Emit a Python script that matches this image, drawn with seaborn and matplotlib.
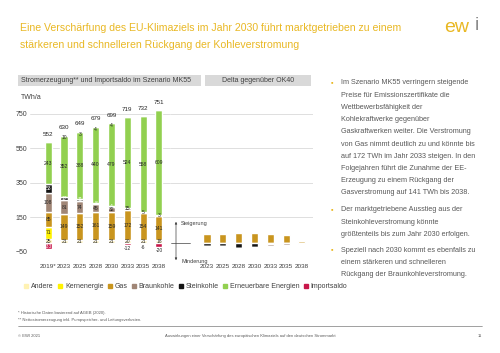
import numpy as np
import seaborn as sns
import matplotlib.pyplot as plt
from matplotlib.patches import Patch, Rectangle
from matplotlib.lines import Line2D

# data
years = ["2019*", "2023", "2025", "2028", "2030", "2033", "2035", "2038"]
andere = np.array([25, 21, 21, 21, 21, 20, 21, 18])
kern = np.array([71, 0, 0, 0, 0, 0, 0, 0])
gas = np.array([85, 149, 152, 161, 159, 172, 154, 141])
braun = np.array([108, 81, 74, 45, 32, 15, 5, 3])
stein = np.array([53, 17, 11, 8, 4, 0, 0, 0])
ee = np.array([243, 352, 388, 440, 479, 524, 558, 609])
importsaldo = np.array([-33, 10, 3, 4, 4, -12, -6, -20])
totals = [552, 630, 649, 679, 699, 719, 732, 751]

delta_years = ["2023", "2025", "2028", "2030", "2033", "2035", "2038"]
delta_gas = np.array([52, 55, 58, 62, 56, 48, 14])
delta_stein = np.array([-14, -14, -24, -20, -5, 0, 0])
delta_braun = np.array([-2, -3, -4, -5, -9, -8, -5])
delta_import = np.array([0, 0, 0, 0, -2, -4, 0])

colors = {
    "Andere": "#FFF2B3",
    "Kernenergie": "#FFF200",
    "Gas": "#C9951E",
    "Braunkohle": "#A08676",
    "Steinkohle": "#141414",
    "Erneuerbare Energien": "#92D050",
    "Importsaldo": "#C8174A",
}

gold = "#E9B824"
txt = "#595959"

W, H = 500, 353
def fx(x):
    return x / W
def fy(y):
    return 1 - y / H

sns.set_theme(style="white")
plt.rcParams['font.family'] = ['Liberation Sans', 'DejaVu Sans']

fig = plt.figure(figsize=(5, 3.53), dpi=100)

# title + logo
fig.text(fx(20), fy(28), "Eine Verschärfung des EU-Klimaziels im Jahr 2030 führt marktgetrieben zu einem",
         color=gold, fontsize=7.6, va="center")
fig.text(fx(20), fy(45), "stärkeren und schnelleren Rückgang der Kohleverstromung",
         color=gold, fontsize=7.6, va="center")
fig.text(fx(444), fy(27), "ew", color=gold, fontsize=14, va="center")
fig.text(fx(475), fy(26), "i", color="#8C8C8C", fontsize=14, va="center")

# panel headers
fig.add_artist(Rectangle((fx(18), fy(86)), fx(183), 11 / H, transform=fig.transFigure,
                         color="#D9D9D9", lw=0))
fig.add_artist(Rectangle((fx(205), fy(86)), fx(106), 11 / H, transform=fig.transFigure,
                         color="#D9D9D9", lw=0))
fig.text(fx(21), fy(80.5), "Stromerzeugung** und Importsaldo im Szenario MK55", fontsize=5,
         color="#404040", va="center")
fig.text(fx(258), fy(80.5), "Delta gegenüber OK40", fontsize=5, color="#404040",
         va="center", ha="center")
fig.text(fx(21), fy(97), "TWh/a", fontsize=5, color="#404040", va="center")

ylim = (-50, 830)
yticks = [-50, 150, 350, 550, 750]

ax1 = fig.add_axes([fx(30), fy(252), fx(140), 152 / H])
ax2 = fig.add_axes([fx(170), fy(252), fx(143), 152 / H])

# left: stacked generation
layers = [("Andere", andere), ("Kernenergie", kern), ("Gas", gas), ("Braunkohle", braun),
          ("Steinkohle", stein), ("Erneuerbare Energien", ee)]
bottom = np.zeros(len(years))
for name, vals in layers:
    sns.barplot(x=years, y=vals, bottom=bottom.copy(), color=colors[name], width=0.45,
                saturation=1, errorbar=None, ax=ax1)
    lab_col = "white" if name == "Steinkohle" else "#262626"
    ax1.bar_label(ax1.containers[-1], labels=[str(v) if v else "" for v in vals],
                  label_type="center", fontsize=3.6, color=lab_col)
    bottom += vals

imp_pos = np.clip(importsaldo, 0, None)
imp_neg = np.clip(importsaldo, None, 0)
sns.barplot(x=years, y=imp_pos, bottom=bottom.copy(), color=colors["Importsaldo"], width=0.45,
            saturation=1, errorbar=None, ax=ax1)
ax1.bar_label(ax1.containers[-1], labels=[str(v) if v else "" for v in imp_pos],
              label_type="edge", fontsize=3.6, color="#262626", padding=-4)
sns.barplot(x=years, y=imp_neg, color=colors["Importsaldo"], width=0.45,
            saturation=1, errorbar=None, ax=ax1)
ax1.bar_label(ax1.containers[-1], labels=[str(v) if i == 0 else "" for i, v in enumerate(imp_neg)],
              label_type="center", fontsize=3.6, color="white")
ax1.bar_label(ax1.containers[-1], labels=[str(v) if (i > 0 and v) else "" for i, v in enumerate(imp_neg)],
              label_type="edge", fontsize=3.6, color="#262626", padding=0.5)

top = bottom + imp_pos
for i, t in enumerate(totals):
    ax1.text(i, top[i] + 28, str(t), ha="center", va="bottom", fontsize=4.5, color="#262626")

# right: delta vs OK40
sns.barplot(x=delta_years, y=delta_gas, color=colors["Gas"], width=0.45, saturation=1,
            errorbar=None, ax=ax2)
sns.barplot(x=delta_years, y=delta_stein, color=colors["Steinkohle"], width=0.45, saturation=1,
            errorbar=None, ax=ax2)
sns.barplot(x=delta_years, y=delta_braun, bottom=delta_stein, color=colors["Braunkohle"],
            width=0.45, saturation=1, errorbar=None, ax=ax2)
sns.barplot(x=delta_years, y=delta_import, bottom=delta_stein + delta_braun,
            color=colors["Importsaldo"], width=0.45, saturation=1, errorbar=None, ax=ax2)

for ax in (ax1, ax2):
    ax.set_ylim(*ylim)
    ax.set_yticks(yticks)
    ax.yaxis.grid(True, color="#D9D9D9", lw=0.6)
    ax.set_axisbelow(True)
    ax.tick_params(axis="both", length=0, labelsize=5, colors="#404040")
    ax.tick_params(axis="x", pad=9, labelsize=4.6)
    ax.set_xlabel("")
    ax.set_ylabel("")
    sns.despine(ax=ax, left=True, bottom=True)
    ax.patch.set_alpha(0)

ax1.set_xlim(-1.15, 7.7)
ax1.tick_params(axis="y", pad=2)
ax2.set_xlim(-2.34, 6.7)
ax2.set_yticklabels([])

# Steigerung / Minderung arrows
fig.add_artist(Line2D([fx(171), fx(190)], [fy(243), fy(243)], transform=fig.transFigure,
                      color="#404040", lw=0.5))
ax2.annotate("", xy=(fx(176), fy(219)), xytext=(fx(176), fy(263)), xycoords="figure fraction",
             textcoords="figure fraction",
             arrowprops=dict(arrowstyle="<|-|>", lw=0.5, color="#404040", mutation_scale=3))
fig.text(fx(181), fy(224), "Steigerung", fontsize=4, color="#404040", va="center")
fig.text(fx(181), fy(261), "Minderung", fontsize=4, color="#404040", va="center")

# legend
handles = [Patch(color=c, label=n) for n, c in colors.items()]
fig.legend(handles=handles, loc="center left", bbox_to_anchor=(fx(18), fy(287)), ncol=7,
           frameon=False, fontsize=5, handlelength=0.6, handleheight=0.6,
           handletextpad=0.4, columnspacing=0.6, labelcolor="#404040")

# bullet text
bullets = [
    (83, ["Im Szenario MK55 verringern steigende",
          "Preise für Emissionszertifikate die",
          "Wettbewerbsfähigkeit der",
          "Kohlekraftwerke gegenüber",
          "Gaskraftwerken weiter. Die Verstromung",
          "von Gas nimmt deutlich zu und könnte bis",
          "auf 172 TWh im Jahr 2033 steigen. In den",
          "Folgejahren führt die Zunahme der EE-",
          "Erzeugung zu einem Rückgang der",
          "Gasverstromung auf 141 TWh bis 2038."]),
    (210, ["Der marktgetriebene Ausstieg aus der",
           "Steinkohleverstromung könnte",
           "größtenteils bis zum Jahr 2030 erfolgen."]),
    (250, ["Speziell nach 2030 kommt es ebenfalls zu",
           "einem stärkeren und schnelleren",
           "Rückgang der Braunkohleverstromung."]),
]
for y0, lines in bullets:
    fig.text(fx(331), fy(y0), "\u25aa", color=gold, fontsize=5, va="center")
    for k, line in enumerate(lines):
        fig.text(fx(341), fy(y0 + k * 12.2), line, fontsize=5.2, color=txt, va="center")

# footnotes and footer
fig.text(fx(18), fy(313), "* Historische Daten basierend auf AGEB (2020).", fontsize=3, color=txt,
         va="center")
fig.text(fx(18), fy(320), "** Nettostromerzeugung inkl. Pumpspeicher- und Leitungsverlusten.",
         fontsize=3, color=txt, va="center")
fig.add_artist(Line2D([fx(18), fx(482)], [fy(326), fy(326)], transform=fig.transFigure,
                      color="#595959", lw=0.4))
fig.text(fx(18), fy(336), "© EWI 2021", fontsize=3, color=txt, va="center")
fig.text(fx(250), fy(336),
         "Auswirkungen einer Verschärfung des europäischen Klimaziels auf den deutschen Strommarkt",
         fontsize=3, color=txt, va="center", ha="center")
fig.text(fx(478), fy(336), "11", fontsize=3, color=txt, va="center")

fig.savefig("out.png", dpi=100)
